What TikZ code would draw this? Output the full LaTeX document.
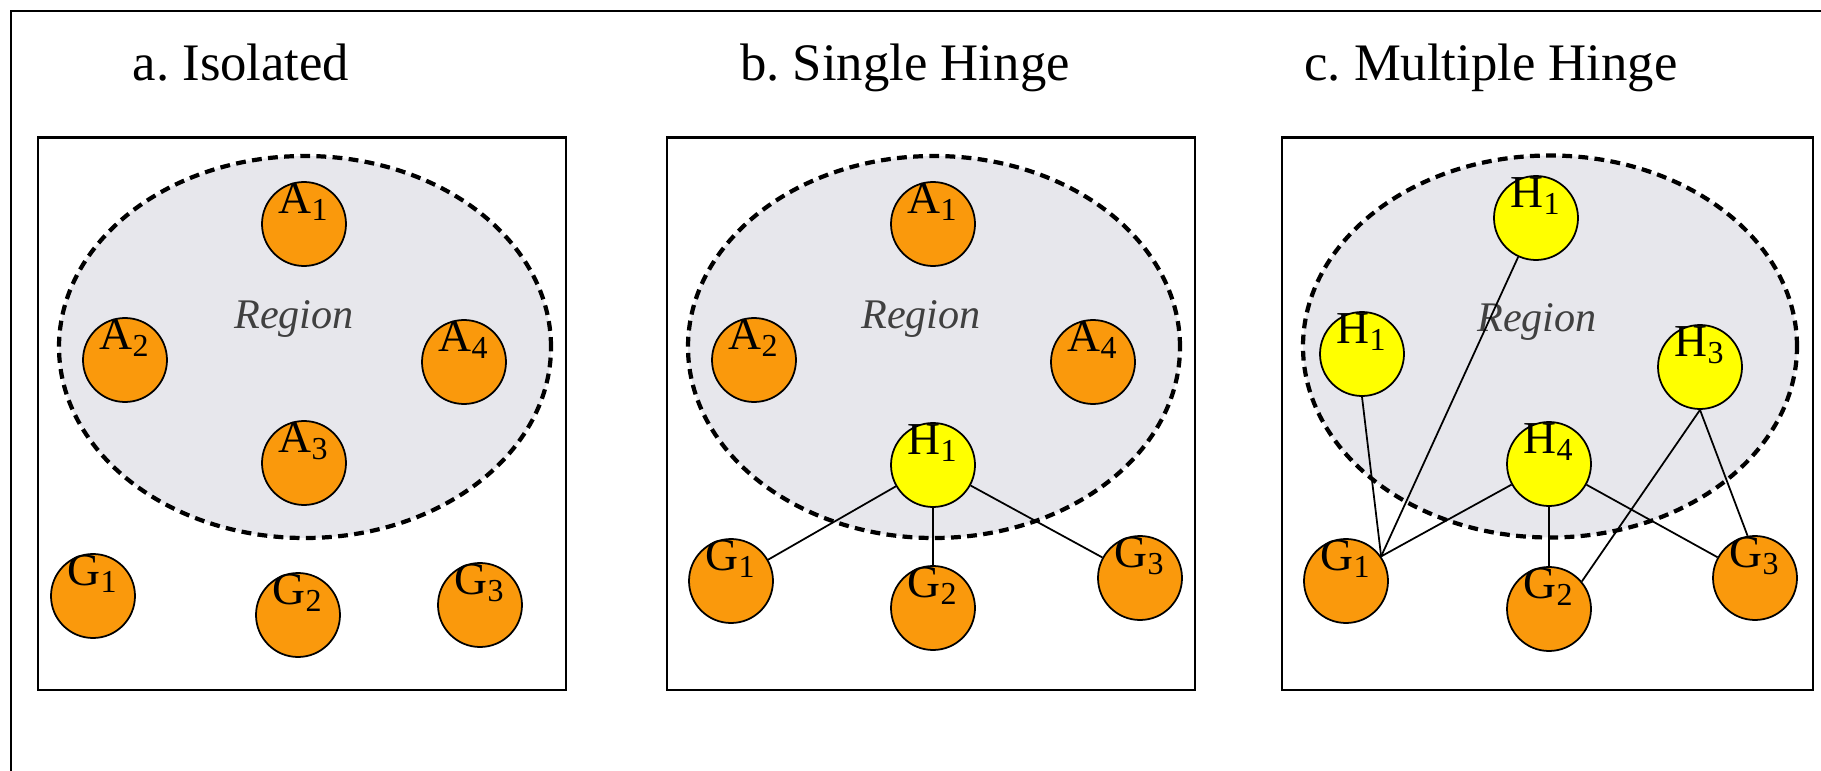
\documentclass[tikz,border=0pt]{standalone}
\usepackage{fontspec}
\setmainfont{Liberation Serif}
\usepackage{tikz}
\usetikzlibrary{positioning}
\frenchspacing

\definecolor{nodeorange}{RGB}{250,153,12}
\definecolor{hingeyellow}{RGB}{255,255,0}
\definecolor{regiongray}{RGB}{231,231,236}

\begin{document}
\begin{tikzpicture}[on grid,
    main node/.style={circle,draw,fill=nodeorange,minimum size=0.84cm,inner sep=0pt,line width=0.5pt},
    hinge node/.style={main node,fill=hingeyellow},
    tag/.style={anchor=north,inner sep=0pt,yshift=-0.5pt,font=\fontsize{13}{13}\selectfont},
    panel/.style={draw,line width=0.8pt},
    region/.style={draw,fill=regiongray,line width=1.2pt,dash pattern=on 2.8pt off 1.8pt},
    title/.style={anchor=base,font=\fontsize{15}{15}\selectfont},
    region text/.style={anchor=base,font=\fontsize{12}{12}\selectfont\itshape,text=black!75},
    link/.style={line width=0.5pt},
    thick link/.style={line width=0.8pt}]

    \useasboundingbox (0,0) rectangle (18.21,-7.71);
    \clip (0,0) rectangle (18.21,-7.71);
    \draw[line width=0.8pt] (0.11,-8) |- (18.5,-0.11);

    \node[title](ta) at (2.41,-0.81) {a. Isolated};
    \node[title](tb) at (9.05,-0.81) {b. Single Hinge};
    \node[title](tc) at (14.91,-0.81) {c. Multiple Hinge};

    \draw[panel] (0.38,-1.375) rectangle (5.66,-6.90);
    \draw[panel] (6.67,-1.375) rectangle (11.95,-6.90);
    \draw[panel] (12.82,-1.375) rectangle (18.13,-6.90);

    \draw[region] (3.05,-3.47) ellipse [x radius=2.46cm, y radius=1.91cm];
    \draw[region] (9.34,-3.47) ellipse [x radius=2.46cm, y radius=1.91cm];
    \draw[region] (15.50,-3.465) ellipse [x radius=2.47cm, y radius=1.91cm];

    \node[region text](ra) at (2.94,-3.29) {Region};
    \node[region text](rb) at (9.21,-3.29) {Region};
    \node[region text](rc) at (15.37,-3.31) {Region};

    \node[main node][label = {[tag]north:A\textsubscript{1}}](a1) at (3.04,-2.24) {};
    \node[main node][label = {[tag]north:A\textsubscript{2}}](a2)[below left = 1.36cm and 1.79cm of a1]{};
    \node[main node][label = {[tag]north:A\textsubscript{4}}](a4)[below right = 1.38cm and 1.60cm of a1]{};
    \node[main node][label = {[tag]north:A\textsubscript{3}}](a3)[below = 2.39cm of a1]{};
    \node[main node][label = {[tag]north:G\textsubscript{1}}](a5)[below left = 1.33cm and 2.11cm of a3]{};
    \node[main node][label = {[tag]north:G\textsubscript{2}}](a6)[below left = 1.52cm and 0.06cm of a3]{};
    \node[main node][label = {[tag]north:G\textsubscript{3}}](a7)[below right = 1.42cm and 1.76cm of a3]{};

    \node[main node][label = {[tag]north:A\textsubscript{1}}](b1) at (9.33,-2.24) {};
    \node[main node][label = {[tag]north:A\textsubscript{2}}](b2)[below left = 1.36cm and 1.79cm of b1]{};
    \node[main node][label = {[tag]north:A\textsubscript{4}}](b3)[below right = 1.38cm and 1.60cm of b1]{};
    \node[hinge node][label = {[tag]north:H\textsubscript{1}}](b4)[below = 2.41cm of b1]{};
    \node[main node][label = {[tag]north:G\textsubscript{1}}](b5)[below left = 1.16cm and 2.02cm of b4]{};
    \node[main node][label = {[tag]north:G\textsubscript{2}}](b6)[below = 1.43cm of b4]{};
    \node[main node][label = {[tag]north:G\textsubscript{3}}](b7)[below right = 1.13cm and 2.07cm of b4]{};

    \node[hinge node][label = {[tag]north:H\textsubscript{1}}](c1) at (15.36,-2.18) {};
    \node[hinge node][label = {[tag]north:H\textsubscript{1}}](c2)[below left = 1.36cm and 1.74cm of c1]{};
    \node[hinge node][label = {[tag]north:H\textsubscript{3}}](c3)[below right = 1.49cm and 1.64cm of c1]{};
    \node[hinge node][label = {[tag]north:H\textsubscript{4}}](c4)[below right = 2.46cm and 0.13cm of c1]{};
    \node[main node][label = {[tag]north:G\textsubscript{1}}](c5)[below left = 1.17cm and 2.03cm of c4]{};
    \node[main node][label = {[tag]north:G\textsubscript{2}}](c6)[below = 1.45cm of c4]{};
    \node[main node][label = {[tag]north:G\textsubscript{3}}](c7)[below right = 1.14cm and 2.06cm of c4]{};

    \path (b4) edge [link] (b5);
    \path (b4) edge [thick link] (b6);
    \path (b4) edge [link] (b7);

    \path (c2.south) edge [link] (c5.35);
    \path (c1) edge [link] (c5.35);
    \path (c4) edge [link] (c5.35);
    \path (c4) edge [thick link] (c6);
    \path (c4) edge [link] (c7);
    \path (c3.south) edge [link] (c6.40);
    \path (c3.south) edge [link] (c7.100);

\end{tikzpicture}
\end{document}
